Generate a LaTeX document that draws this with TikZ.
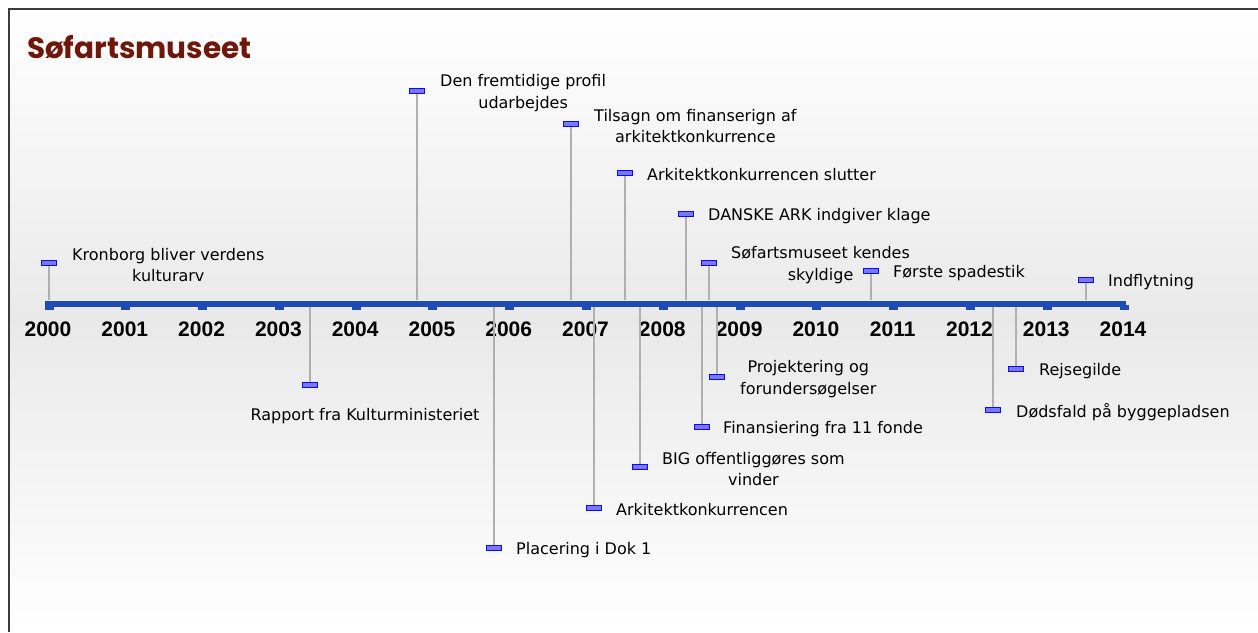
\documentclass[tikz,border=0pt]{standalone}
\usepackage{fontspec}
\setmainfont{DejaVu Sans}
\newfontfamily\yearfont{Liberation Sans}
\newfontfamily\titlefont{Poppins}
\definecolor{barblue}{RGB}{30,75,180}
\definecolor{stemgray}{RGB}{176,176,176}
\definecolor{mkblue}{RGB}{10,10,250}
\definecolor{mkfill}{RGB}{120,120,255}
\definecolor{titlered}{RGB}{112,22,10}
\definecolor{framegray}{RGB}{60,60,60}
\begin{document}
\begin{tikzpicture}[x=1pt,y=-1pt,
  stem/.style={draw=stemgray, line width=2.8pt},
  mk/.style={rectangle, draw=mkblue, fill=mkfill, line width=1.4pt, minimum width=15.5pt, minimum height=4.8pt, inner sep=0pt},
  lbl/.style={anchor=west, inner sep=0pt, align=center, font=\fontsize{16}{21.5}\selectfont},
  yr/.style={inner sep=0pt, font=\yearfont\bfseries\fontsize{21}{24}\selectfont},
  tick/.style={fill=barblue, draw=none}]
\useasboundingbox (0,0) rectangle (1258,632);
\fill[white] (0,0) rectangle (1258,632);
\shade[top color=white, bottom color=white, middle color=gray!17] (9,9) rectangle (1258,632);
\draw[framegray, line width=1.6pt] (9,632) -- (9,9) -- (1258,9);
\node[anchor=base west, inner sep=0pt, text=titlered, font=\titlefont\bfseries\fontsize{29.5}{32}\selectfont] (title) at (27,58) {Søfartsmuseet};
% axis
\node[rectangle, fill=barblue, inner sep=0pt, minimum width=1081pt, minimum height=6pt] (bar) at (585.5,303.5) {};
\foreach \k in {0,...,14}{
  \fill[barblue] ({49+76.79*\k-4.5},305) rectangle ({49+76.79*\k+4.5},310);
  \pgfmathtruncatemacro{\yy}{2000+\k}
  \node[yr] (y\yy) at ({48+76.79*\k},329) {\yy};
}
% events above
\node[mk] (m1) at (49,263) {};
\node[lbl] (t1) at (72,265) {Kronborg bliver verdens\\kulturarv};
\draw[stem] (m1.south) -- (m1 |- bar.north);
\node[mk] (m3) at (417,91) {};
\node[lbl] (t3) at (440,93) {Den fremtidige profil\\udarbejdes};
\draw[stem] (m3.south) -- (m3 |- bar.north);
\node[mk] (m5) at (571,124) {};
\node[lbl] (t5) at (594,126) {Tilsagn om finanserign af\\arkitektkonkurrence};
\draw[stem] (m5.south) -- (m5 |- bar.north);
\node[mk] (m7) at (625,173) {};
\node[lbl] (t7) at (647,175) {Arkitektkonkurrencen slutter};
\draw[stem] (m7.south) -- (m7 |- bar.north);
\node[mk] (m9) at (686,214) {};
\node[lbl] (t9) at (708,216) {DANSKE ARK indgiver klage};
\draw[stem] (m9.south) -- (m9 |- bar.north);
\node[mk] (m11) at (709,263) {};
\node[lbl] (t11) at (731,265) {Søfartsmuseet kendes\\skyldige};
\draw[stem] (m11.south) -- (m11 |- bar.north);
\node[mk] (m13) at (871,271) {};
\node[lbl] (t13) at (893,273) {Første spadestik};
\draw[stem] (m13.south) -- (m13 |- bar.north);
\node[mk] (m16) at (1086,280) {};
\node[lbl] (t16) at (1108,282) {Indflytning};
\draw[stem] (m16.south) -- (m16 |- bar.north);
% events below
\node[mk] (m2) at (310,385) {};
\node[lbl, anchor=center] (t2) at (365,416) {Rapport fra Kulturministeriet};
\draw[stem] (m2.north) -- (m2 |- bar.south);
\node[mk] (m4) at (494,548) {};
\node[lbl] (t4) at (516,550) {Placering i Dok 1};
\draw[stem] (m4.north) -- (m4 |- bar.south);
\node[mk] (m6) at (594,508) {};
\node[lbl] (t6) at (616,510) {Arkitektkonkurrencen};
\draw[stem] (m6.north) -- (m6 |- bar.south);
\node[mk] (m8) at (640,467) {};
\node[lbl] (t8) at (662,469) {BIG offentliggøres som\\vinder};
\draw[stem] (m8.north) -- (m8 |- bar.south);
\node[mk] (m10) at (702,427) {};
\node[lbl] (t10) at (723,429) {Finansiering fra 11 fonde};
\draw[stem] (m10.north) -- (m10 |- bar.south);
\node[mk] (m12) at (717,377) {};
\node[lbl] (t12) at (740,379) {Projektering og\\forundersøgelser};
\draw[stem] (m12.north) -- (m12 |- bar.south);
\node[mk] (m14) at (993,410) {};
\node[lbl] (t14) at (1016,412) {Dødsfald på byggepladsen};
\draw[stem] (m14.north) -- (m14 |- bar.south);
\node[mk] (m15) at (1016,369) {};
\node[lbl] (t15) at (1039,371) {Rejsegilde};
\draw[stem] (m15.north) -- (m15 |- bar.south);
\end{tikzpicture}
\end{document}
